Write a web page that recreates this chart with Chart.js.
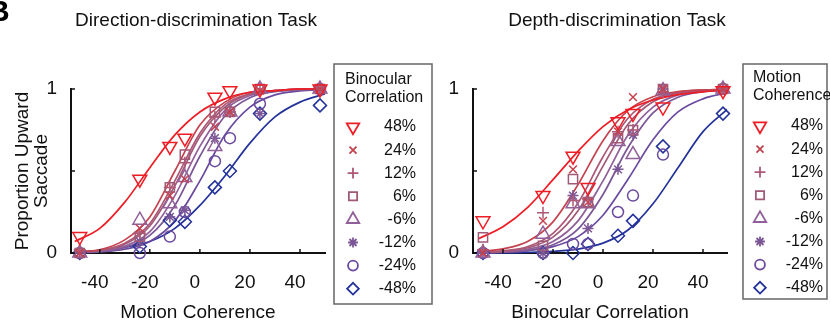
<!DOCTYPE html>
<html>
<head>
<meta charset="utf-8">
<script src="https://cdn.jsdelivr.net/npm/chart.js@4.4.1/dist/chart.umd.min.js"></script>
<style>
  html, body { margin: 0; padding: 0; background: #fff; }
  #wrap { position: relative; width: 830px; height: 324px; overflow: hidden; }
  canvas { position: absolute; top: 0; }
  #panelLabel { position: absolute; left: -12px; top: -6px; font: bold 30px "Liberation Sans", Arial, sans-serif; color: #000; }
</style>
</head>
<body>
<div id="wrap">
  <canvas id="dirChart" width="440" height="324" style="left:0"></canvas>
  <canvas id="depthChart" width="390" height="324" style="left:440px"></canvas>
  <span id="panelLabel">B</span>
</div>
<script>
// levels shown in both legends (top to bottom)
const levelLabels = ['48%', '24%', '12%', '6%', '-6%', '-12%', '-24%', '-48%'];

// stimulus values where points were measured, and x where the fitted curves were read
const xLevels = [-48, -24, -12, -6, 6, 12, 24, 48];
const fitX = [-50, -40, -30, -20, -10, 0, 10, 20, 30, 40, 50];
const xTicks = [-40, -20, 0, 20, 40];
const yTicks = [0, 0.5, 1];

// direction-discrimination task: one row per binocular correlation level
const dirPoints = [
  [0.10, 0.45, 0.65, 0.70, 0.95, 0.99, 1.00, 1.00],
  [0.00, 0.15, 0.35, 0.45, 0.77, 0.86, 0.99, 1.00],
  [0.02, 0.12, 0.40, 0.55, 0.83, 0.86, 1.00, 1.00],
  [0.00, 0.10, 0.40, 0.60, 0.86, 0.86, 1.00, 1.00],
  [0.00, 0.20, 0.30, 0.46, 0.65, 0.86, 1.00, 1.00],
  [0.00, 0.07, 0.22, 0.26, 0.70, 0.86, 0.85, 1.00],
  [0.00, 0.00, 0.10, 0.25, 0.56, 0.70, 0.91, 1.00],
  [0.00, 0.04, 0.20, 0.19, 0.40, 0.50, 0.85, 0.90]
];
const dirFits = [
  [0.07, 0.15, 0.31, 0.52, 0.72, 0.86, 0.94, 0.98, 0.99, 1.0, 1.0],
  [0.007, 0.02, 0.08, 0.22, 0.50, 0.78, 0.92, 0.98, 0.99, 1.0, 1.0],
  [0.005, 0.018, 0.06, 0.18, 0.44, 0.73, 0.905, 0.97, 0.99, 1.0, 1.0],
  [0.005, 0.016, 0.053, 0.165, 0.41, 0.71, 0.89, 0.97, 0.99, 1.0, 1.0],
  [0.004, 0.012, 0.042, 0.13, 0.35, 0.65, 0.87, 0.96, 0.987, 0.996, 1.0],
  [0.003, 0.01, 0.033, 0.107, 0.29, 0.59, 0.835, 0.947, 0.984, 0.995, 1.0],
  [0.002, 0.007, 0.023, 0.07, 0.196, 0.44, 0.72, 0.89, 0.964, 0.988, 0.996],
  [0.005, 0.015, 0.035, 0.07, 0.15, 0.29, 0.47, 0.67, 0.83, 0.92, 0.97]
];

// depth-discrimination task: one row per motion coherence level
const depthPoints = [
  [0.196, 0.35, 0.59, 0.40, 0.80, 0.85, 0.89, 0.99],
  [0.00, 0.196, 0.51, 0.31, 0.74, 0.95, 1.00, 1.00],
  [0.02, 0.246, 0.32, 0.33, 0.74, 0.75, 0.98, 1.00],
  [0.095, 0.044, 0.45, 0.31, 0.70, 0.75, 1.00, 1.00],
  [0.00, 0.115, 0.30, 0.30, 0.68, 0.60, 0.99, 1.00],
  [0.00, 0.00, 0.35, 0.15, 0.51, 0.72, 1.00, 1.00],
  [0.00, 0.00, 0.055, 0.055, 0.25, 0.35, 0.60, 1.00],
  [0.00, 0.00, 0.00, 0.055, 0.105, 0.196, 0.65, 0.85]
];
const depthFits = [
  [0.086, 0.16, 0.28, 0.447, 0.62, 0.77, 0.873, 0.933, 0.966, 0.983, 0.992],
  [0.008, 0.025, 0.072, 0.19, 0.417, 0.685, 0.869, 0.953, 0.984, 0.994, 0.998],
  [0.004, 0.013, 0.04, 0.12, 0.305, 0.587, 0.822, 0.937, 0.98, 0.994, 0.998],
  [0.003, 0.01, 0.032, 0.097, 0.257, 0.53, 0.785, 0.922, 0.975, 0.992, 0.997],
  [0.002, 0.007, 0.023, 0.07, 0.196, 0.44, 0.72, 0.89, 0.964, 0.988, 0.996],
  [0.002, 0.005, 0.016, 0.05, 0.146, 0.357, 0.643, 0.854, 0.95, 0.984, 0.995],
  [0.002, 0.005, 0.015, 0.039, 0.1, 0.23, 0.45, 0.69, 0.86, 0.94, 0.978],
  [0.0, 0.001, 0.004, 0.01, 0.024, 0.06, 0.14, 0.30, 0.52, 0.74, 0.88]
];

// marker look per level
const colors = ['#ee1d25', '#c4434f', '#ad5876', '#a05a78', '#915f99', '#7b5696', '#6a4a9e', '#23319a'];
const markers = ['triangle', 'crossRot', 'cross', 'rect', 'triangle', 'star', 'circle', 'rectRot'];
const rotations = [180, 0, 0, 0, 0, 0, 0, 0];
const radii = [8, 5.5, 6, 6.5, 8, 5.5, 5.5, 6.5];

const FONT = '"Liberation Sans", Arial, Helvetica, sans-serif';
Chart.defaults.font.family = FONT;
Chart.defaults.color = '#111';

function buildDatasets(points, fits) {
  const sets = [];
  points.forEach((row, i) => {
    sets.push({
      label: levelLabels[i],
      data: row.map((v, j) => ({ x: xLevels[j], y: v })),
      showLine: false,
      pointStyle: markers[i],
      rotation: rotations[i],
      pointRadius: radii[i],
      pointBorderWidth: 1.5,
      pointBorderColor: colors[i],
      pointBackgroundColor: 'rgba(0,0,0,0)',
      clip: false
    });
  });
  fits.forEach((row, i) => {
    sets.push({
      label: levelLabels[i] + ' fit',
      data: row.map((v, j) => ({ x: fitX[j], y: v })),
      showLine: true,
      borderColor: colors[i],
      borderWidth: 1.7,
      pointRadius: 0,
      cubicInterpolationMode: 'monotone',
      clip: { left: 0, right: 0, top: 4, bottom: 4 }
    });
  });
  return sets;
}

// small inward tick marks, like the original axes
const inwardTicks = {
  id: 'inwardTicks',
  afterDraw(chart) {
    const { ctx, chartArea, scales } = chart;
    ctx.save();
    ctx.strokeStyle = '#111';
    ctx.lineWidth = 1.5;
    xTicks.forEach(v => {
      const px = scales.x.getPixelForValue(v);
      ctx.beginPath();
      ctx.moveTo(px, chartArea.bottom);
      ctx.lineTo(px, chartArea.bottom - 4);
      ctx.stroke();
    });
    yTicks.forEach(v => {
      const py = scales.y.getPixelForValue(v);
      ctx.beginPath();
      ctx.moveTo(chartArea.left, py);
      ctx.lineTo(chartArea.left + 4, py);
      ctx.stroke();
    });
    ctx.restore();
  }
};

const panelTitle = {
  id: 'panelTitle',
  afterDraw(chart, args, opts) {
    const ctx = chart.ctx;
    ctx.save();
    ctx.font = '19px ' + FONT;
    ctx.fillStyle = '#111';
    ctx.textAlign = 'center';
    ctx.textBaseline = 'middle';
    ctx.fillText(opts.text, opts.x, opts.y);
    ctx.restore();
  }
};

// boxed legend with a two-line heading, drawn with the library's point renderer
const boxLegend = {
  id: 'boxLegend',
  afterDraw(chart, args, opts) {
    const ctx = chart.ctx;
    const b = opts.box;
    ctx.save();
    ctx.strokeStyle = '#666';
    ctx.lineWidth = 1.5;
    ctx.strokeRect(b.x, b.y, b.w, b.h);
    ctx.font = '16px ' + FONT;
    ctx.fillStyle = '#111';
    ctx.textBaseline = 'middle';
    ctx.textAlign = 'left';
    opts.heading.forEach((t, i) => ctx.fillText(t, opts.headX, opts.headY + i * 18));
    levelLabels.forEach((lab, i) => {
      const cy = opts.rowY + i * opts.rowStep;
      ctx.strokeStyle = colors[i];
      ctx.fillStyle = 'rgba(0,0,0,0)';
      ctx.lineWidth = 1.8;
      Chart.helpers.drawPoint(ctx, {
        pointStyle: markers[i],
        rotation: rotations[i],
        radius: radii[i] * 0.9,
        borderWidth: 1.8
      }, opts.markX, cy);
      ctx.fillStyle = '#111';
      ctx.textAlign = 'right';
      ctx.fillText(lab, opts.textRight, cy);
    });
    ctx.restore();
  }
};

function makePanel(id, cfg) {
  new Chart(document.getElementById(id), {
    type: 'scatter',
    data: { datasets: buildDatasets(cfg.points, cfg.fits) },
    options: {
      responsive: false,
      animation: false,
      layout: { padding: { left: 0, right: cfg.padRight, top: 89, bottom: 0 } },
      plugins: {
        legend: { display: false },
        tooltip: { enabled: false },
        panelTitle: cfg.title,
        boxLegend: cfg.legend
      },
      scales: {
        x: {
          type: 'linear',
          min: cfg.xMin,
          max: cfg.xMax,
          afterBuildTicks: s => { s.ticks = xTicks.map(v => ({ value: v })); },
          afterFit: s => { s.height = 71; },
          grid: { display: false, drawTicks: false },
          border: { display: true, color: '#111', width: 2 },
          ticks: { font: { size: 19 }, padding: 18, labelOffset: -5, color: '#111', maxRotation: 0 },
          title: {
            display: true,
            text: cfg.xTitle,
            font: { size: 19 },
            color: '#111',
            padding: { top: 0, bottom: 0 }
          }
        },
        y: {
          min: 0,
          max: 1,
          afterBuildTicks: s => { s.ticks = yTicks.map(v => ({ value: v })); },
          afterFit: s => { s.width = cfg.yWidth; },
          grid: { display: false, drawTicks: false },
          border: { display: true, color: '#111', width: 2 },
          ticks: {
            font: { size: 19 },
            padding: 14,
            color: '#111',
            callback: v => (v === 0 || v === 1) ? String(v) : ''
          },
          title: {
            display: !!cfg.yTitle,
            text: cfg.yTitle || '',
            font: { size: 19, lineHeight: 1.0 },
            color: '#111',
            padding: { top: 13, bottom: 0 }
          }
        }
      }
    },
    plugins: [inwardTicks, panelTitle, boxLegend]
  });
}

makePanel('dirChart', {
  points: dirPoints,
  fits: dirFits,
  xMin: -51.5,
  xMax: 50,
  yWidth: 71,
  padRight: 115,
  xTitle: 'Motion Coherence',
  yTitle: ['Proportion Upward', 'Saccade'],
  title: { text: 'Direction-discrimination Task', x: 196, y: 21 },
  legend: {
    box: { x: 334, y: 64, w: 98, h: 240 },
    heading: ['Binocular', 'Correlation'],
    headX: 345, headY: 80,
    rowY: 127, rowStep: 23.1,
    markX: 353, textRight: 416
  }
});

makePanel('depthChart', {
  points: depthPoints,
  fits: depthFits,
  xMin: -52,
  xMax: 49.6,
  yWidth: 33,
  padRight: 103,
  xTitle: 'Binocular Correlation',
  yTitle: null,
  title: { text: 'Depth-discrimination Task', x: 177, y: 21 },
  legend: {
    box: { x: 303, y: 64, w: 84, h: 235 },
    heading: ['Motion', 'Coherence'],
    headX: 313, headY: 78,
    rowY: 126, rowStep: 23.1,
    markX: 320, textRight: 383
  }
});
</script>
</body>
</html>
